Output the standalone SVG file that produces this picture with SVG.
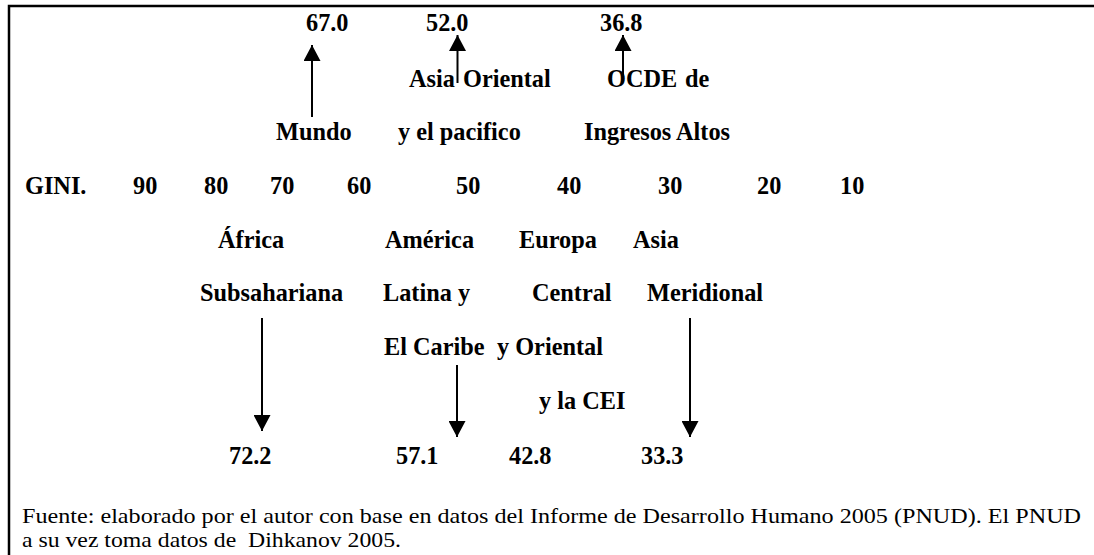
<svg xmlns="http://www.w3.org/2000/svg" width="1094" height="555" viewBox="0 0 1094 555">
<style>
.b{font-family:'Liberation Serif','Times New Roman',Tinos,'DejaVu Serif',serif;font-weight:700;font-size:24.3px;fill:#000}
.r{font-family:'Liberation Serif','Times New Roman',Tinos,'DejaVu Serif',serif;font-size:22px;fill:#000}
.c{stroke:#000;stroke-width:2;fill:none}
</style>
<defs>
<marker id="ah" markerUnits="userSpaceOnUse" markerWidth="17" markerHeight="17" refX="16" refY="8.5" orient="auto"><path d="M0,0 L16,8.5 L0,17 Z" fill="#000"/></marker>
</defs>
<rect width="1094" height="555" fill="#fff"/>
<path d="M9,555 V6 H1094" stroke="#000" stroke-width="2.5" fill="none"/>
<g id="axis">
<text class="b" x="25" y="194">GINI.</text>
<text class="b" x="133" y="194">90</text>
<text class="b" x="204" y="194">80</text>
<text class="b" x="270" y="194">70</text>
<text class="b" x="347" y="194">60</text>
<text class="b" x="456" y="194">50</text>
<text class="b" x="557" y="194">40</text>
<text class="b" x="658" y="194">30</text>
<text class="b" x="757" y="194">20</text>
<text class="b" x="840" y="194">10</text>
</g>
<g id="mundo">
<text class="b" x="306" y="31">67.0</text>
<text class="b" x="276" y="140">Mundo</text>
</g>
<g id="asia-oriental">
<text class="b" x="426" y="31">52.0</text>
<text class="b" x="409" y="87">Asia</text>
<text class="b" x="463" y="87">Oriental</text>
<text class="b" x="398" y="140">y el pacifico</text>
</g>
<g id="ocde">
<text class="b" x="600" y="31">36.8</text>
<text class="b" x="607" y="87">OCDE</text>
<text class="b" x="685" y="87">de</text>
<text class="b" x="584" y="140">Ingresos Altos</text>
</g>
<g id="africa">
<text class="b" x="218" y="248">África</text>
<text class="b" x="200" y="301">Subsahariana</text>
<text class="b" x="229" y="464">72.2</text>
</g>
<g id="america">
<text class="b" x="385" y="248">América</text>
<text class="b" x="383" y="301">Latina y</text>
<text class="b" x="384" y="355">El Caribe</text>
<text class="b" x="396" y="464">57.1</text>
</g>
<g id="europa">
<text class="b" x="519" y="248">Europa</text>
<text class="b" x="532" y="301">Central</text>
<text class="b" x="497" y="355">y Oriental</text>
<text class="b" x="539" y="409">y la CEI</text>
<text class="b" x="509" y="464">42.8</text>
</g>
<g id="asia-meridional">
<text class="b" x="633" y="248">Asia</text>
<text class="b" x="647" y="301">Meridional</text>
<text class="b" x="641" y="464">33.3</text>
</g>
<g id="connectors">
<line class="c" x1="312" y1="117" x2="312" y2="45" marker-end="url(#ah)"/>
<line class="c" x1="457.5" y1="83" x2="457.5" y2="35" marker-end="url(#ah)"/>
<line class="c" x1="623" y1="75" x2="623" y2="35" marker-end="url(#ah)"/>
<line class="c" x1="262" y1="318" x2="262" y2="431" marker-end="url(#ah)"/>
<line class="c" x1="457" y1="365" x2="457" y2="437" marker-end="url(#ah)"/>
<line class="c" x1="690" y1="318" x2="690" y2="437" marker-end="url(#ah)"/>
</g>
<g id="source">
<text class="r" x="22" y="523" textLength="1059" lengthAdjust="spacingAndGlyphs">Fuente: elaborado por el autor con base en datos del Informe de Desarrollo Humano 2005 (PNUD). El PNUD</text>
<text class="r" x="22" y="547" textLength="379" lengthAdjust="spacingAndGlyphs" xml:space="preserve">a su vez toma datos de  Dihkanov 2005.</text>
</g>
</svg>
